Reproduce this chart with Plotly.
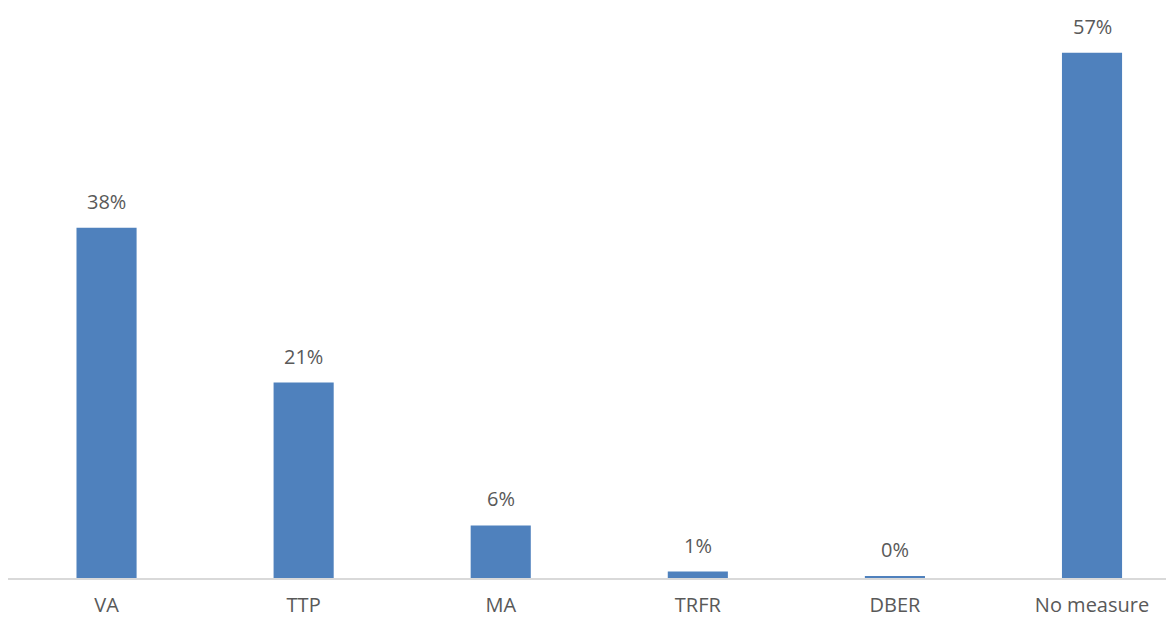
import plotly.graph_objects as go

categories = ["VA", "TTP", "MA", "TRFR", "DBER", "No measure"]
values = [38.0, 21.2, 5.7, 0.7, 0.2, 57.0]
labels = ["38%", "21%", "6%", "1%", "0%", "57%"]

FONT = "Open Sans, sans-serif"
TXT = "#595959"

fig = go.Figure(go.Bar(
    x=categories, y=values,
    marker=dict(color="#4F81BD", line=dict(width=0)),
    cliponaxis=False, hoverinfo="x+y",
))
for c, v, t in zip(categories, values, labels):
    fig.add_annotation(x=c, y=v, text=t, showarrow=False, yanchor="bottom",
                       yshift=11, font=dict(family=FONT, size=20, color=TXT))

# page body has an 8px margin; size figure so plot area lands at x 8..1174, y 25..578
fig.update_layout(
    width=1166, height=611,
    margin=dict(l=0, r=0, t=17, b=41),
    plot_bgcolor="white", paper_bgcolor="white",
    font=dict(family=FONT, color=TXT, size=20),
    bargap=0.695, showlegend=False,
)
fig.update_xaxes(range=[-0.5, 5.416], showline=True, linecolor="#D9D9D9", linewidth=1.5,
                 ticks="", tickfont=dict(family=FONT, size=20, color=TXT), showgrid=False,
                 ticklabelstandoff=8, automargin=False)
fig.update_yaxes(range=[0, 60], visible=False, showgrid=False)
fig.write_html("out.html")
